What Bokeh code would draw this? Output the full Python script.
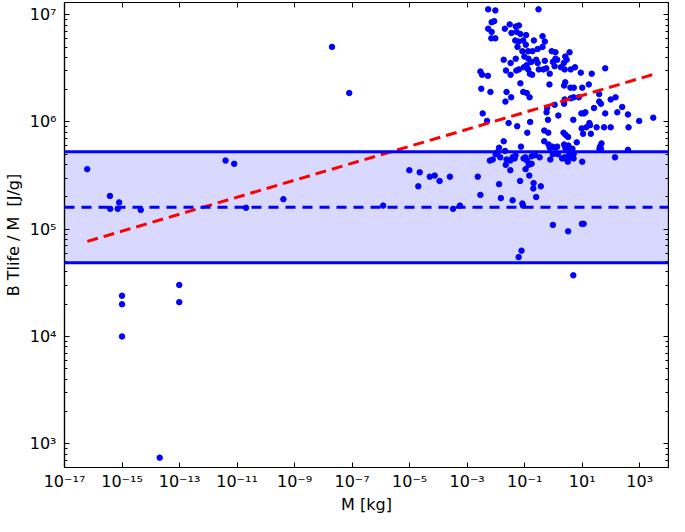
from bokeh.plotting import figure
from bokeh.models import (LogAxis, FixedTicker, CustomJSTickFormatter, Range1d,
                          BoxAnnotation, Span)
from bokeh.embed import file_html
from bokeh.resources import INLINE

# ---- data (log10 of values) ----
mass_log10 = [
    -16.21, -15.42, -15.41, -15.15, -15.10, -14.35, -15.00, -15.00, -15.00, -13.01,
    -13.01, -13.69, -11.40, -11.10, -10.69, -9.39, -7.70, -7.10, -5.92, -5.01,
    -4.65, -4.70, -4.30, -4.13, -3.96, -3.60, -3.49, -3.25, -2.63, -2.54,
    -2.27, -2.02, -0.52, -2.15, -2.06, -2.27, -2.15, -2.16, -2.02, -1.52,
    -1.69, -1.46, -1.31, -1.20, -1.28, -1.15, -0.95, -1.33, -1.21, -1.05,
    -0.68, -1.25, -0.96, -1.08, -0.88, -0.73, -0.55, -0.38, -0.30, -0.38,
    -1.73, -1.49, -1.31, -1.01, -0.87, -0.77, -0.60, -0.55, -0.93, -1.03,
    -0.88, -1.20, -1.29, -1.65, -1.49, -0.82, -0.74, -0.51, -0.35, -0.30,
    -0.25, -0.13, -0.06, 0.07, 0.07, 0.13, -0.02, 0.04, 0.26, 0.41,
    0.46, 0.36, 0.39, 0.56, 0.60, 0.75, 0.95, 1.33, 1.80, -2.54,
    -2.48, -2.28, -2.51, -2.19, -1.15, -1.63, -1.47, -1.67, -1.05, -0.93,
    -0.83, -0.14, 0.37, 0.41, 0.59, 0.71, 1.00, 1.23, 1.59, -2.46,
    -2.31, -1.56, -1.26, -0.81, -0.91, -0.24, -0.32, -0.22, 0.04, 0.39,
    0.37, 0.60, 0.70, 0.88, 1.41, 1.59, 1.65, 1.99, 2.16, 2.39,
    2.22, 2.59, 2.98, 3.47, -0.19, 0.17, 0.69, 0.97, 1.06, 1.11,
    1.25, 1.27, 1.14, 0.98, 1.30, 1.50, 1.80, 1.76, 1.99, 2.61,
    -0.18, 0.35, 0.42, 0.51, 0.81, 1.03, -0.32, -1.73, -1.89, -1.94,
    -1.68, -1.13, -2.11, -2.21, -1.85, -2.01, -1.63, -1.50, -1.42, -1.32,
    -1.35, -1.04, -0.92, -0.86, -0.76, -0.98, -0.76, -0.64, -0.48, -1.66,
    -1.50, -0.97, -0.84, -1.16, -1.89, -0.69, -0.70, -0.44, -0.60, -1.42,
    -1.08, -1.06, -1.83, -1.11, -1.21, -0.17, -0.13, -0.04, 0.07, 0.13,
    -0.02, 0.15, -0.11, 0.37, 0.41, 0.52, 0.57, 0.66, 0.61, 0.54,
    0.70, 0.30, 0.39, 0.46, 0.50, 0.57, 0.70, 1.00, 1.67, 1.62,
    1.60, 1.65, 2.14, 2.59, -0.02, 0.51, 0.99, 1.05, 0.69,
]
energy_log10 = [
    5.56, 5.31, 5.19, 5.19, 5.25, 5.18, 4.38, 4.30, 4.00, 4.48,
    4.32, 2.87, 5.64, 5.61, 5.20, 5.28, 6.70, 6.27, 5.22, 5.55,
    5.53, 5.40, 5.49, 5.50, 5.45, 5.49, 5.19, 5.22, 5.49, 5.32,
    7.05, 7.04, 7.05, 6.93, 6.94, 6.87, 6.84, 6.78, 6.78, 6.91,
    6.87, 6.83, 6.89, 6.90, 6.84, 6.82, 6.81, 6.76, 6.75, 6.76,
    6.76, 6.70, 6.72, 6.66, 6.66, 6.66, 6.68, 6.70, 6.75, 6.80,
    6.58, 6.55, 6.59, 6.61, 6.59, 6.56, 6.58, 6.55, 6.53, 6.51,
    6.49, 6.49, 6.48, 6.48, 6.44, 6.45, 6.44, 6.49, 6.49, 6.57,
    6.50, 6.45, 6.66, 6.65, 6.59, 6.58, 6.56, 6.52, 6.51, 6.61,
    6.58, 6.55, 6.49, 6.65, 6.49, 6.51, 6.46, 6.45, 6.50, 6.47,
    6.44, 6.43, 6.31, 6.28, 6.36, 6.28, 6.23, 6.19, 6.28, 6.27,
    6.23, 6.35, 6.34, 6.37, 6.32, 6.32, 6.32, 6.35, 6.26, 6.08,
    6.01, 5.99, 5.96, 6.00, 5.90, 6.09, 5.92, 6.13, 6.16, 6.21,
    6.17, 6.22, 6.23, 6.23, 6.13, 6.19, 6.17, 6.21, 6.23, 6.14,
    6.09, 6.07, 6.01, 6.04, 6.02, 6.06, 6.02, 6.08, 6.08, 6.09,
    5.99, 5.97, 5.95, 5.94, 5.89, 5.95, 6.08, 5.95, 5.95, 5.95,
    5.90, 5.90, 5.88, 5.86, 5.81, 5.89, 5.82, 5.82, 5.76, 5.72,
    5.73, 5.77, 5.65, 5.64, 5.67, 5.70, 5.65, 5.64, 5.67, 5.69,
    5.66, 5.66, 5.64, 5.60, 5.61, 5.67, 5.68, 5.69, 5.67, 5.60,
    5.55, 5.56, 5.50, 5.45, 5.42, 5.43, 5.38, 5.40, 5.30, 5.27,
    5.24, 5.22, 5.29, 4.80, 4.74, 5.79, 5.76, 5.77, 5.76, 5.77,
    5.70, 5.70, 5.65, 5.79, 5.76, 5.78, 5.75, 5.75, 5.72, 5.69,
    5.70, 5.66, 5.67, 5.65, 5.63, 5.67, 5.66, 5.63, 5.80, 5.77,
    5.75, 5.75, 5.67, 5.74, 5.04, 4.98, 5.05, 5.05, 4.57,
]
mass = [10 ** v for v in mass_log10]
energy = [10 ** v for v in energy_log10]

band_low = 4.86e4
band_mid = 1.60e5
band_high = 5.27e5

trend_mass = [6.2e-17, 3.3e3]
trend_energy = [7.7e4, 2.8e6]

x_tick_exponents = [-17, -15, -13, -11, -9, -7, -5, -3, -1, 1, 3]
y_tick_exponents = [3, 4, 5, 6, 7]
x_limits = (1e-17, 1e4)
y_limits = (6.0e2, 1.3e7)

x_label = "M [kg]"
y_label = "B Tlife / M \u00a0[J/g]"

# ---- figure ----
FONT = "DejaVu Sans"
p = figure(width=669, height=516, x_axis_type="log", y_axis_type="log",
           x_range=Range1d(*x_limits), y_range=Range1d(*y_limits),
           output_backend="svg", toolbar_location=None,
           min_border_left=40, min_border_right=1, min_border_top=2,
           min_border_bottom=30)
p.xgrid.visible = False
p.ygrid.visible = False
p.outline_line_color = "black"
p.outline_line_width = 1.2
p.background_fill_color = "white"
p.border_fill_color = "white"

sup_js = """
const sup = {"-":"\u207b","0":"\u2070","1":"\u00b9","2":"\u00b2","3":"\u00b3",
             "4":"\u2074","5":"\u2075","6":"\u2076","7":"\u2077","8":"\u2078","9":"\u2079"};
const e = Math.round(Math.log10(tick));
return "10" + String(e).split("").map(c => sup[c]).join("");
"""

x_ticker = FixedTicker(ticks=[10.0 ** e for e in x_tick_exponents], minor_ticks=[])
y_minor = [k * 10.0 ** d for d in range(2, 8) for k in range(2, 10)]
y_ticker = FixedTicker(ticks=[10.0 ** e for e in y_tick_exponents], minor_ticks=y_minor)


def style_axis(ax, show_labels):
    ax.axis_line_color = "black"
    ax.axis_line_width = 1.2
    ax.major_tick_in = 5
    ax.major_tick_out = 0
    ax.minor_tick_in = 3
    ax.minor_tick_out = 0
    ax.major_tick_line_color = "black"
    ax.minor_tick_line_color = "black"
    ax.major_label_text_font = FONT
    if show_labels:
        ax.major_label_text_font_size = "16px"
        ax.major_label_text_color = "black"
        ax.formatter = CustomJSTickFormatter(code=sup_js)
        ax.axis_label_text_font = FONT
        ax.axis_label_text_font_size = "16px"
        ax.axis_label_text_font_style = "normal"
        ax.axis_label_text_color = "black"
    else:
        ax.major_label_text_font_size = "1px"
        ax.major_label_text_alpha = 0
        ax.major_label_standoff = 0


p.xaxis.ticker = x_ticker
p.yaxis.ticker = y_ticker
style_axis(p.xaxis[0], True)
style_axis(p.yaxis[0], True)
p.xaxis.axis_label = x_label
p.yaxis.axis_label = y_label
p.xaxis.major_label_standoff = 4
p.yaxis.major_label_standoff = 8
p.xaxis.axis_label_standoff = 1
p.yaxis.axis_label_standoff = 4

top_axis = LogAxis(ticker=x_ticker)
style_axis(top_axis, False)
p.add_layout(top_axis, "above")
right_axis = LogAxis(ticker=y_ticker)
style_axis(right_axis, False)
p.add_layout(right_axis, "right")

# band
p.add_layout(BoxAnnotation(bottom=band_low, top=band_high, fill_color="blue",
                           fill_alpha=0.15, line_color=None, level="underlay"))
p.add_layout(Span(location=band_high, dimension="width", line_color="blue", line_width=3))
p.add_layout(Span(location=band_low, dimension="width", line_color="blue", line_width=3))
p.add_layout(Span(location=band_mid, dimension="width", line_color="blue", line_width=3,
                  line_dash="10 7"))

p.scatter(mass, energy, size=5.5, marker="circle", fill_color="blue", line_color="blue")

p.line(trend_mass, trend_energy, line_color="red", line_width=3, line_dash="11 6")

open("out.html", "w").write(file_html(p, INLINE))
